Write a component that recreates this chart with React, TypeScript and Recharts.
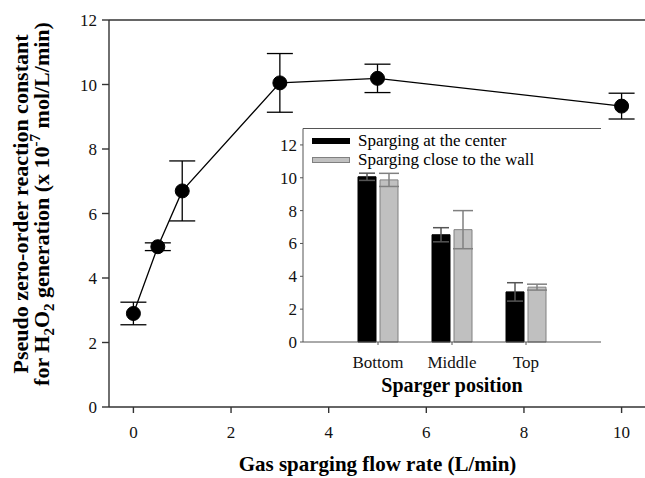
import React from "react";
import {
  ComposedChart,
  BarChart,
  Bar,
  Line,
  XAxis,
  YAxis,
  ErrorBar,
  ReferenceLine,
  Legend,
} from "recharts";

// main panel: rate constant vs gas flow rate
const flowRate = [0, 0.5, 1, 3, 5, 10];
const rateConst = [2.9, 4.97, 6.7, 10.05, 10.19, 9.33];
const rateErr = [0.35, 0.12, 0.93, 0.91, 0.44, 0.4];
const flowTicks = [0, 2, 4, 6, 8, 10];
const rateTicks = [0, 2, 4, 6, 8, 10, 12];

// inset: sparger position
const positions = ["Bottom", "Middle", "Top"];
const centerVals = [10.06, 6.53, 3.05];
const centerErr = [0.22, 0.43, 0.56];
const wallVals = [9.87, 6.84, 3.34];
const wallErr = [0.4, 1.16, 0.18];
const insetTicks = [0, 2, 4, 6, 8, 10, 12];

const serif = "Liberation Serif";
const axisColor = "#333";

const mainData = flowRate.map((x, i) => ({ x, y: rateConst[i], err: rateErr[i] }));
const insetData = positions.map((name, i) => ({
  name,
  center: centerVals[i],
  centerErr: centerErr[i],
  wall: wallVals[i],
  wallErr: wallErr[i],
}));

const YTitle = () => (
  <g style={{ fontFamily: serif }} fontWeight="bold" fontSize={22} fill="#000">
    <text x={28} y={204} textAnchor="middle" transform="rotate(-90, 28, 204)">
      Pseudo zero-order reaction constant
    </text>
    <text x={49} y={204} textAnchor="middle" transform="rotate(-90, 49, 204)">
      <tspan>for H</tspan>
      <tspan fontSize={15} dy={5}>2</tspan>
      <tspan dy={-5}>O</tspan>
      <tspan fontSize={15} dy={5}>2</tspan>
      <tspan dy={-5}> generation (x 10</tspan>
      <tspan fontSize={15} dy={-9}>-7</tspan>
      <tspan dy={9}> mol/L/min)</tspan>
    </text>
  </g>
);

const XTitle = (props: any) => {
  const vb = props.viewBox || {};
  return (
    <text
      x={vb.x + vb.width / 2}
      y={471}
      textAnchor="middle"
      style={{ fontFamily: serif }}
      fontWeight="bold"
      fontSize={21}
      fill="#000"
    >
      Gas sparging flow rate (L/min)
    </text>
  );
};

const InsetTitle = (props: any) => {
  const vb = props.viewBox || {};
  return (
    <text
      x={vb.x + vb.width / 2}
      y={277}
      textAnchor="middle"
      style={{ fontFamily: serif }}
      fontWeight="bold"
      fontSize={20}
      fill="#000"
    >
      Sparger position
    </text>
  );
};

const InsetLegend = () => (
  <div style={{ fontFamily: serif, fontSize: 17, color: "#000" }}>
    {[
      { label: "Sparging at the center", fill: "#000", stroke: "#000" },
      { label: "Sparging close to the wall", fill: "#c0c0c0", stroke: "#808080" },
    ].map((it) => (
      <div
        key={it.label}
        style={{ display: "flex", alignItems: "center", height: 19.5, whiteSpace: "nowrap" }}
      >
        <span
          style={{
            display: "inline-block",
            width: 38,
            height: 6,
            background: it.fill,
            border: `1px solid ${it.stroke}`,
            boxSizing: "border-box",
          }}
        />
        <span style={{ marginLeft: 8 }}>{it.label}</span>
      </div>
    ))}
  </div>
);

export default function App() {
  const tickStyle = { fontFamily: serif, fontSize: 17, fill: "#111" };
  return (
    <div
      style={{
        position: "absolute",
        left: 0,
        top: 0,
        width: 645,
        height: 478,
        overflow: "hidden",
        background: "#fff",
        fontFamily: serif,
      }}
    >
      <div style={{ position: "absolute", left: 0, top: 0 }}>
        <ComposedChart
          width={660}
          height={478}
          data={mainData}
          margin={{ top: 20, right: 14, bottom: 0, left: 48 }}
        >
          <XAxis
            dataKey="x"
            type="number"
            domain={[-0.5, 10.5]}
            ticks={flowTicks}
            tick={tickStyle}
            tickSize={6}
            tickMargin={13}
            height={71}
            stroke={axisColor}
            strokeWidth={1.4}
            label={<XTitle />}
          />
          <YAxis
            type="number"
            domain={[0, 12]}
            ticks={rateTicks}
            tick={tickStyle}
            tickSize={7}
            tickMargin={5}
            width={61}
            stroke={axisColor}
            strokeWidth={1.4}
            label={<YTitle />}
          />
          <ReferenceLine y={12} stroke={axisColor} strokeWidth={1.4} />
          <Line
            dataKey="y"
            stroke="#000"
            strokeWidth={1.3}
            dot={{ r: 7, fill: "#000", stroke: "#000", strokeWidth: 1 }}
            activeDot={false}
            isAnimationActive={false}
          >
            <ErrorBar dataKey="err" width={13} stroke="#000" strokeWidth={1.3} />
          </Line>
        </ComposedChart>
      </div>

      <div style={{ position: "absolute", left: 240, top: 115 }}>
        <BarChart
          width={370}
          height={285}
          data={insetData}
          margin={{ top: 13.5, right: 9, bottom: 0, left: 0 }}
          barGap={4}
        >
          <XAxis
            dataKey="name"
            padding={{ left: 38, right: 38 }}
            tick={tickStyle}
            tickSize={3}
            tickMargin={11}
            height={58}
            stroke="#555"
            label={<InsetTitle />}
          />
          <YAxis
            domain={[0, 13]}
            ticks={insetTicks}
            tick={tickStyle}
            tickSize={3}
            tickMargin={3}
            width={63}
            stroke="#555"
          />
          <YAxis
            yAxisId="r"
            orientation="right"
            domain={[0, 13]}
            tick={false}
            tickLine={false}
            width={0}
            stroke="#555"
          />
          <ReferenceLine y={13} stroke="#555" />
          <Legend
            layout="vertical"
            align="center"
            verticalAlign="middle"
            content={<InsetLegend />}
            wrapperStyle={{ left: 72, top: 16, width: 270, height: 40 }}
          />
          <Bar dataKey="center" fill="#000" stroke="#000" barSize={18} isAnimationActive={false}>
            <ErrorBar dataKey="centerErr" width={8} stroke="#555" strokeWidth={1.5} />
          </Bar>
          <Bar dataKey="wall" fill="#c0c0c0" stroke="#808080" barSize={18} isAnimationActive={false}>
            <ErrorBar dataKey="wallErr" width={10} stroke="#808080" strokeWidth={1.5} />
          </Bar>
        </BarChart>
      </div>
    </div>
  );
}
